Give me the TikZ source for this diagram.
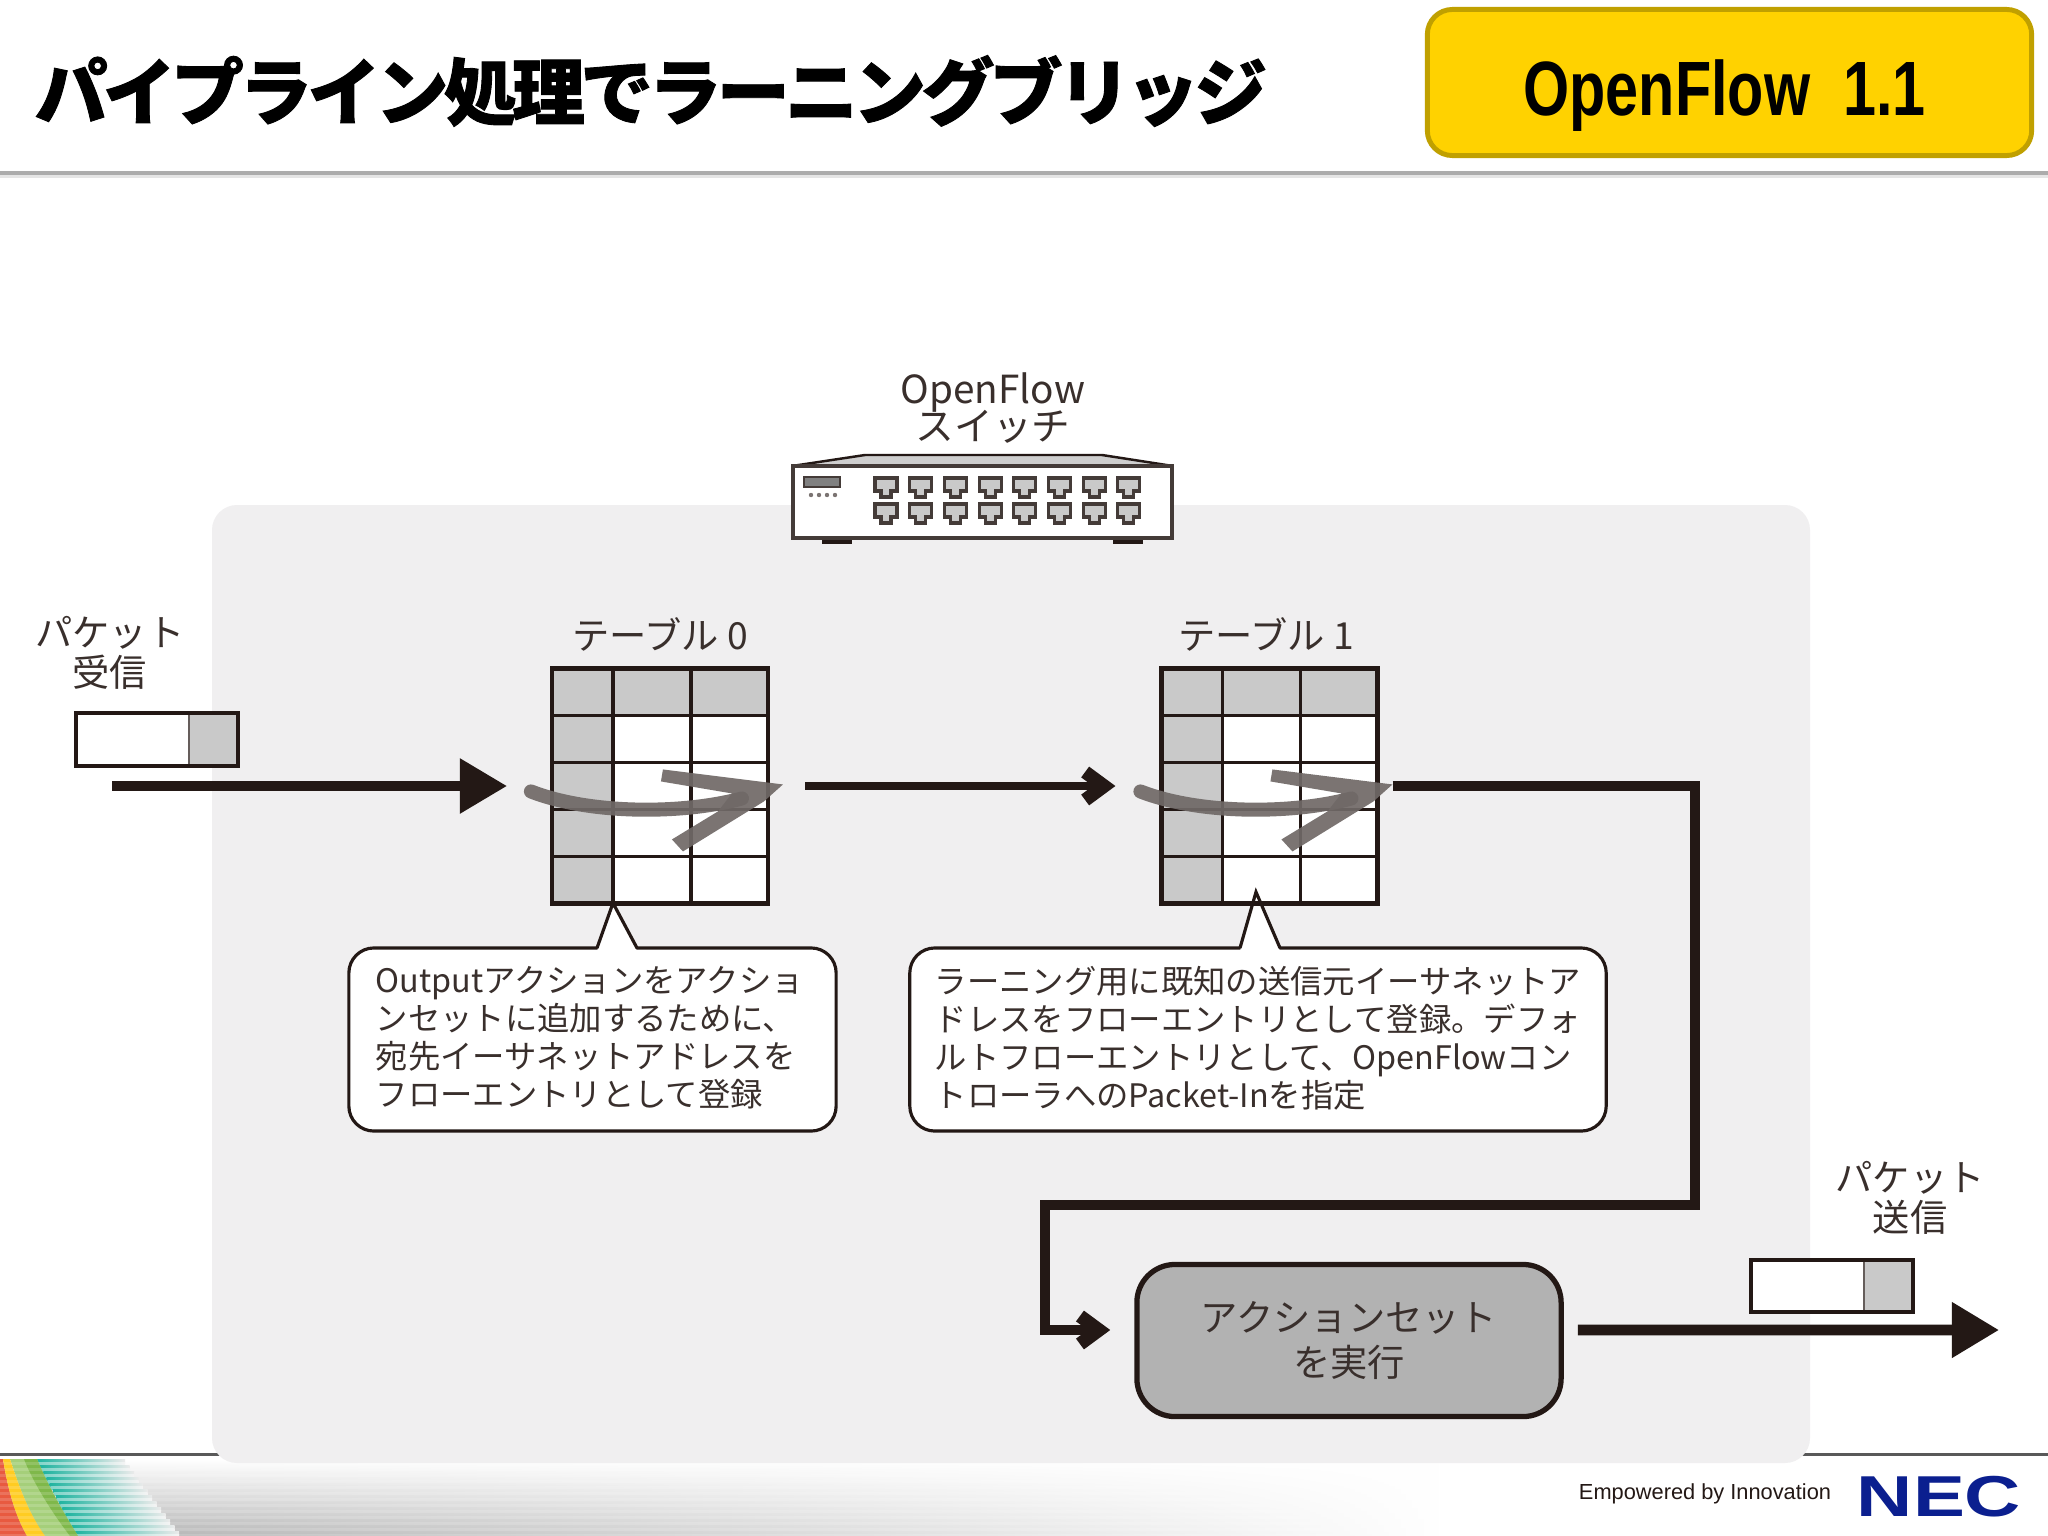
\documentclass[tikz,border=0pt]{standalone}
\usepackage{fontspec}
\setmainfont{Noto Sans CJK JP}
\newfontfamily\titlefont[LetterSpace=-6.3,BoldFeatures={FakeBold=1.2}]{Noto Sans CJK JP}
\newfontfamily\latinsans{Liberation Sans}
\usetikzlibrary{arrows.meta,fadings}
\definecolor{panelgray}{HTML}{F0EFF0}
\definecolor{cellgray}{HTML}{C9C9C9}
\definecolor{inkblack}{HTML}{231815}
\definecolor{badgeyellow}{HTML}{FFD200}
\definecolor{badgeedge}{HTML}{C0A000}
\definecolor{necblue}{HTML}{0B1F8F}
\definecolor{bandred}{HTML}{E85A40}
\definecolor{bandyellow}{HTML}{FFCC22}
\definecolor{bandlime}{HTML}{A5CF7A}
\definecolor{bandgreen}{HTML}{7FB84A}
\definecolor{bandteal}{HTML}{20B4A0}
\tikzfading[name=fadelong,left color=transparent!0,middle color=transparent!35,right color=transparent!100]
\tikzset{
	label/.style={text=inkblack!90,align=center,font=\fontsize{10.6}{11.2}\selectfont},
	note/.style={draw=inkblack,fill=white,line width=0.9pt,rounded corners=0.25cm,inner sep=0pt},
	notetext/.style={text=inkblack!90,anchor=north west,align=left,inner sep=0pt,font=\fontsize{9.2}{10.8}\selectfont},
	tablebox/.style={draw=inkblack,fill=white,line width=1.3pt,outer sep=0pt,minimum width=2.16cm,minimum height=2.35cm,inner sep=0pt},
	pktbox/.style={draw=inkblack,fill=white,line width=1pt,inner sep=0pt},
	flowhead/.style={draw=inkblack,line width=2.6pt,-{Triangle[length=0.47cm,width=0.53cm]}},
	flowbarb/.style={draw=inkblack,line width=2.4pt,line join=miter,-{Straight Barb[length=0.19cm,width=0.28cm,line width=3.8pt]}},
	overflow/.style={fill=inkblack!65,opacity=0.92},
}
% one flow table with its pass-through arrow
\newcommand{\flowtable}[2]{
	\node[tablebox] (#1) at (#2,786) {};
	\begin{scope}[shift={(#1.north west)}]
		\fill[cellgray] (0,0) rectangle (216,47);
		\fill[cellgray] (0,0) rectangle (61,235);
		\foreach \r in {47,94,141,188} \draw[inkblack,line width=1pt] (0,\r) -- (216,\r);
		\foreach \c in {61,139} \draw[inkblack,line width=1.1pt] (\c,0) -- (\c,235);
		\draw[inkblack,line width=1.3pt] (0,0) rectangle (216,235);
		\draw[inkblack!65,opacity=0.92,line width=4pt,line cap=round] (-21,123) .. controls (38,146) and (130,146) .. (190,130);
		\fill[overflow] (111,101) -- (231,116) -- (212,133) -- (131,183) -- (120,171) -- (166,143) -- (180,125) -- (109,113) -- cycle;
	\end{scope}
}
\newcommand{\switchport}[2]{
	\draw[inkblack!85,fill=cellgray,line width=0.9pt] (#1-11,#2-9) -- (#1+11,#2-9) -- (#1+11,#2+4) -- (#1+5,#2+4) -- (#1+5,#2+10) -- (#1-5,#2+10) -- (#1-5,#2+4) -- (#1-11,#2+4) -- cycle;
}
\begin{document}
\begin{tikzpicture}[x=0.01cm,y=-0.01cm]
	\useasboundingbox (0,0) rectangle (2048,1536);
	%%%%% header and footer %%%%%
	\fill[white] (0,0) rectangle (2048,1536);
	\fill[gray!20] (0,175) rectangle (2048,178);
	\fill[gray!65] (0,171) rectangle (2048,175);
	\node[anchor=west,text=black,inner sep=0pt,font=\fontsize{20.7}{22}\titlefont\bfseries] (title) at (34,91) {パイプライン処理でラーニングブリッジ};
	\node[draw=badgeedge,fill=badgeyellow,line width=1.4pt,rounded corners=0.25cm,minimum width=6.04cm,minimum height=1.46cm] (badge) at (1729.5,82.5) {};
	\node[anchor=base,xscale=0.77,text=black,font=\fontsize{21.9}{22}\latinsans\bfseries] (badgetext) at (1724.5,115) {OpenFlow\ \ 1.1};
	\fill[gray!70!black] (0,1453) rectangle (2048,1456);
	\shade[top color=white,bottom color=black!32,path fading=fadelong] (0,1459) rectangle (1440,1536);
	\foreach \y in {1459,1465,...,1531} {
		\shade[left color=bandteal,middle color=bandteal!80!white,right color=black!8] ({37+(\y-1459)*0.53},\y) rectangle ({125+(\y-1459)*0.75},\y+3.6);
		\shade[left color=bandteal!65!white,middle color=bandteal!50!white,right color=black!5] ({38+(\y-1459)*0.53},\y+3.6) rectangle ({125+(\y-1459)*0.75},\y+6);
	}
	\fill[bandlime] (10,1459) .. controls (20,1490) and (30,1515) .. (45,1536) -- (78,1536) .. controls (65,1515) and (50,1490) .. (37,1459) -- cycle;
	\fill[bandgreen] (24,1459) .. controls (32,1480) and (50,1510) .. (70,1536) -- (78,1536) .. controls (65,1515) and (50,1490) .. (37,1459) -- cycle;
	\fill[bandred] (0,1459) -- (3,1459) .. controls (8,1490) and (15,1515) .. (27,1536) -- (0,1536) -- cycle;
	\fill[bandyellow] (3,1459) .. controls (8,1490) and (15,1515) .. (27,1536) -- (45,1536) .. controls (30,1515) and (20,1490) .. (10,1459) -- cycle;
	\foreach \y in {1462,1468,...,1534} \fill[white,opacity=0.15] (0,\y) rectangle (1440,\y+2.5);
	\node[text=inkblack,inner sep=0pt,font=\fontsize{6.2}{7}\latinsans] (motto) at (1705,1494) {Empowered by Innovation};
	\node[xscale=1.35,text=necblue,inner sep=0pt,font=\fontsize{16.4}{16}\latinsans\bfseries] (nec) at (1939,1497) {NEC};
	%%%%% panel %%%%%
	\fill[panelgray,rounded corners=0.25cm] (212,505) rectangle (1810,1463);
	%%%%% switch %%%%%
	\node[label,font=\fontsize{11}{9.9}\selectfont] (switchlabel) at (993,408) {OpenFlow\\[-1.7pt]スイッチ};
	\fill[panelgray!70!gray] (865,455) -- (1102,455) -- (1173,466) -- (792,466) -- cycle;
	\draw[inkblack,line width=0.7pt] (792,466) -- (865,455) -- (1102,455) -- (1173,466);
	\fill[inkblack] (822,536) rectangle (852,544);
	\fill[inkblack] (1113,536) rectangle (1143,544);
	\node[draw=inkblack!85,fill=white,line width=1pt,minimum width=3.79cm,minimum height=0.72cm,inner sep=0pt] (switch) at (982.5,502) {};
	\draw[inkblack!85,fill=gray,line width=0.8pt] (804,477) rectangle (840,487);
	\foreach \d in {811,819,827,835} \fill[inkblack!60] (\d,495) circle (2.2);
	\foreach \p in {0,...,7} {
		\switchport{886+34.7*\p}{487}
		\switchport{886+34.7*\p}{513}
	}
	%%%%% notes %%%%%
	\node[note,minimum width=4.87cm,minimum height=1.83cm] (box0) at (592.5,1039.5) {};
	\node[note,minimum width=6.96cm,minimum height=1.83cm] (box1) at (1258,1039.5) {};
	\fill[white] (597,951) -- (613,903) -- (637,951) -- cycle;
	\fill[white] (1240,951) -- (1256,892) -- (1280,951) -- cycle;
	\node[notetext] (note0) at (375,966) {Outputアクションをアクショ\\ンセットに追加するために、\\宛先イーサネットアドレスを\\フローエントリとして登録};
	\node[notetext] (note1) at (934,966) {ラーニング用に既知の送信元イーサネットア\\ドレスをフローエントリとして登録。デフォ\\ルトフローエントリとして、OpenFlowコン\\トローラへのPacket-Inを指定};
	%%%%% tables %%%%%
	\node[label] (t0label) at (660,634) {テーブル 0};
	\node[label] (t1label) at (1266,634) {テーブル 1};
	\flowtable{t0}{660}
	\flowtable{t1}{1269.5}
	\draw[inkblack,line width=0.9pt] (597,948) -- (613,903) -- (637,948);
	\draw[inkblack,line width=0.9pt] (1240,948) -- (1256,892) -- (1280,948);
	%%%%% packets %%%%%
	\node[label] (inlabel) at (110,653) {パケット\\受信};
	\node[pktbox,minimum width=1.62cm,minimum height=0.53cm] (pktin) at (157,739.5) {};
	\fill[cellgray,draw=inkblack!70] (189,714) rectangle (237,765);
	\draw[inkblack,line width=1pt] (76,713) rectangle (238,766);
	\node[label] (outlabel) at (1910,1198) {パケット\\送信};
	\node[pktbox,minimum width=1.62cm,minimum height=0.52cm] (pktout) at (1832,1286) {};
	\fill[cellgray,draw=inkblack!70] (1864,1261) rectangle (1912,1311);
	\draw[inkblack,line width=1pt] (1751,1260) rectangle (1913,1312);
	%%%%% action %%%%%
	\node[draw=inkblack,fill=black!30,line width=1.5pt,rounded corners=0.38cm,minimum width=4.24cm,minimum height=1.52cm,text=inkblack!90,align=center,font=\fontsize{10.6}{13}\selectfont] (action) at (1349,1340.5) {アクションセット\\を実行};
	%%%%% arrows %%%%%
	\coordinate (inflow) at (112,786);
	\coordinate (outflow) at (1999,1330);
	\coordinate (turnright) at (1695,1205);
	\coordinate (turnleft) at (1045,1205);
	\draw[flowhead] (inflow) -- ([xshift=-0.45cm]t0.west);
	\draw[flowbarb,shorten <=0.37cm,shorten >=0.46cm] (t0.east) -- (t1.west);
	\draw[flowbarb,line width=3.1pt,shorten <=0.15cm,shorten >=0.24cm] (t1.east) -| (turnright) -- (turnleft) |- ([yshift=0.105cm]action.west);
	\draw[flowhead,line width=3pt,shorten <=0.14cm] ([yshift=0.105cm]action.east) -- (outflow);
\end{tikzpicture}
\end{document}
